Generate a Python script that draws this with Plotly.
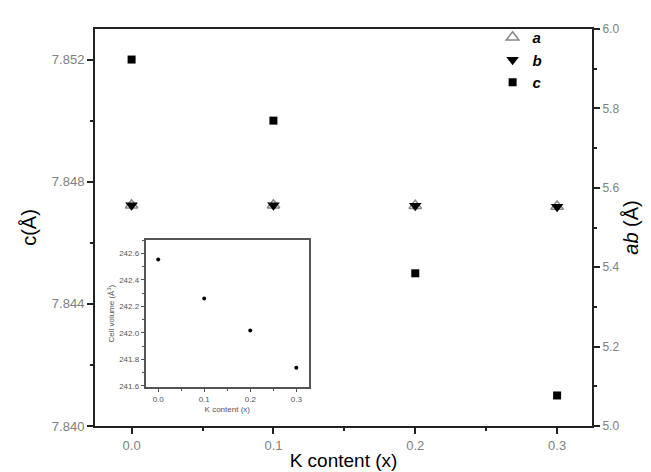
import plotly.graph_objects as go

k_content = [0.0, 0.1, 0.2, 0.3]
a_vals = [5.556, 5.556, 5.555, 5.553]
b_vals = [5.556, 5.556, 5.555, 5.552]
c_vals = [7.852, 7.850, 7.845, 7.841]
cell_volume = [242.553, 242.26, 242.018, 241.737]

x_ticks = [0.0, 0.1, 0.2, 0.3]
x_tick_labels = ["0.0", "0.1", "0.2", "0.3"]
c_ticks = [7.840, 7.844, 7.848, 7.852]
c_tick_labels = ["7.840", "7.844", "7.848", "7.852"]
ab_ticks = [5.0, 5.2, 5.4, 5.6, 5.8, 6.0]
ab_tick_labels = ["5.0", "5.2", "5.4", "5.6", "5.8", "6.0"]
vol_ticks = [241.6, 241.8, 242.0, 242.2, 242.4, 242.6]
vol_tick_labels = ["241.6", "241.8", "242.0", "242.2", "242.4", "242.6"]

FONT = "Liberation Sans, Arial, sans-serif"
AX = "#222222"
TICKC = "#808080"

fig = go.Figure()

fig.add_trace(go.Scatter(
    x=k_content, y=a_vals, mode="markers", name="<b><i>a</i></b>",
    xaxis="x", yaxis="y2",
    marker=dict(symbol="triangle-up-open", size=11, color="#888888", line=dict(width=1.5, color="#888888")),
))
fig.add_trace(go.Scatter(
    x=k_content, y=b_vals, mode="markers", name="<b><i>b</i></b>",
    xaxis="x", yaxis="y2",
    marker=dict(symbol="triangle-down", size=11, color="black"),
))
fig.add_trace(go.Scatter(
    x=k_content, y=c_vals, mode="markers", name="<b><i>c</i></b>",
    xaxis="x", yaxis="y",
    marker=dict(symbol="square", size=8, color="black"),
))
fig.add_trace(go.Scatter(
    x=k_content, y=cell_volume, mode="markers", showlegend=False,
    xaxis="x3", yaxis="y3",
    marker=dict(symbol="circle", size=4, color="black"),
))

fig.update_layout(
    width=651, height=472,
    margin=dict(l=86.7, r=66.7, t=20.7, b=51.3, pad=0),
    paper_bgcolor="white", plot_bgcolor="white",
    font=dict(family=FONT, color="black"),
    showlegend=True,
    legend=dict(x=0.80, y=1.02, xanchor="left", yanchor="top",
                bgcolor="rgba(0,0,0,0)", font=dict(size=15, color="black", family=FONT),
                itemwidth=30, tracegroupgap=0),
    xaxis=dict(
        range=[-0.0258, 0.3246], tickmode="array", tickvals=x_ticks, ticktext=x_tick_labels,
        ticks="outside", ticklen=6, tickwidth=1.5, tickcolor=AX,
        minor=dict(dtick=0.05, tick0=0, ticks="outside", ticklen=3, tickwidth=1.5, tickcolor=AX),
        showline=True, linecolor=AX, linewidth=2, mirror=True,
        showgrid=False, zeroline=False,
        tickfont=dict(size=13, color=TICKC),
        title=dict(text="K content (x)", font=dict(size=19, color="black"), standoff=2),
    ),
    yaxis=dict(
        range=[7.840, 7.853], tickmode="array", tickvals=c_ticks, ticktext=c_tick_labels,
        ticks="outside", ticklen=6, tickwidth=1.5, tickcolor=AX,
        minor=dict(dtick=0.002, tick0=7.840, ticks="outside", ticklen=3, tickwidth=1.5, tickcolor=AX),
        showline=True, linecolor=AX, linewidth=2,
        showgrid=False, zeroline=False,
        tickfont=dict(size=13, color=TICKC),
        title=dict(text="c(Å)", font=dict(size=20, color="black"), standoff=10),
    ),
    yaxis2=dict(
        overlaying="y", side="right", anchor="x",
        range=[5.0, 6.0], tickmode="array", tickvals=ab_ticks, ticktext=ab_tick_labels,
        ticks="outside", ticklen=6, tickwidth=1.5, tickcolor=AX,
        minor=dict(dtick=0.1, tick0=5.0, ticks="outside", ticklen=3, tickwidth=1.5, tickcolor=AX),
        showline=True, linecolor=AX, linewidth=2,
        showgrid=False, zeroline=False,
        tickfont=dict(size=12, color=TICKC),
        title=dict(text="<i>ab</i> (Å)", font=dict(size=20, color="black"), standoff=6),
    ),
    xaxis3=dict(
        domain=[0.1017, 0.4307], anchor="y3",
        range=[-0.0275, 0.3277], tickmode="array", tickvals=x_ticks, ticktext=x_tick_labels,
        ticks="outside", ticklen=3, tickwidth=1, tickcolor="#555555",
        minor=dict(dtick=0.05, tick0=0, ticks="outside", ticklen=2, tickwidth=1, tickcolor="#555555"),
        showline=True, linecolor="#555555", linewidth=1.5, mirror=True,
        showgrid=False, zeroline=False,
        tickfont=dict(size=8, color="#555555"),
        title=dict(text="K content (x)", font=dict(size=8, color="#555555"), standoff=4),
    ),
    yaxis3=dict(
        domain=[0.0975, 0.4685], anchor="x3",
        range=[241.59, 242.7], tickmode="array", tickvals=vol_ticks, ticktext=vol_tick_labels,
        ticks="outside", ticklen=3, tickwidth=1, tickcolor="#555555",
        minor=dict(dtick=0.1, tick0=241.6, ticks="outside", ticklen=2, tickwidth=1, tickcolor="#555555"),
        showline=True, linecolor="#555555", linewidth=1.5, mirror=True,
        showgrid=False, zeroline=False,
        tickfont=dict(size=8, color="#555555"),
        title=dict(text="Cell volume (Å<sup>3</sup>)", font=dict(size=8, color="#555555"), standoff=3),
    ),
)

fig.write_html("out.html")
